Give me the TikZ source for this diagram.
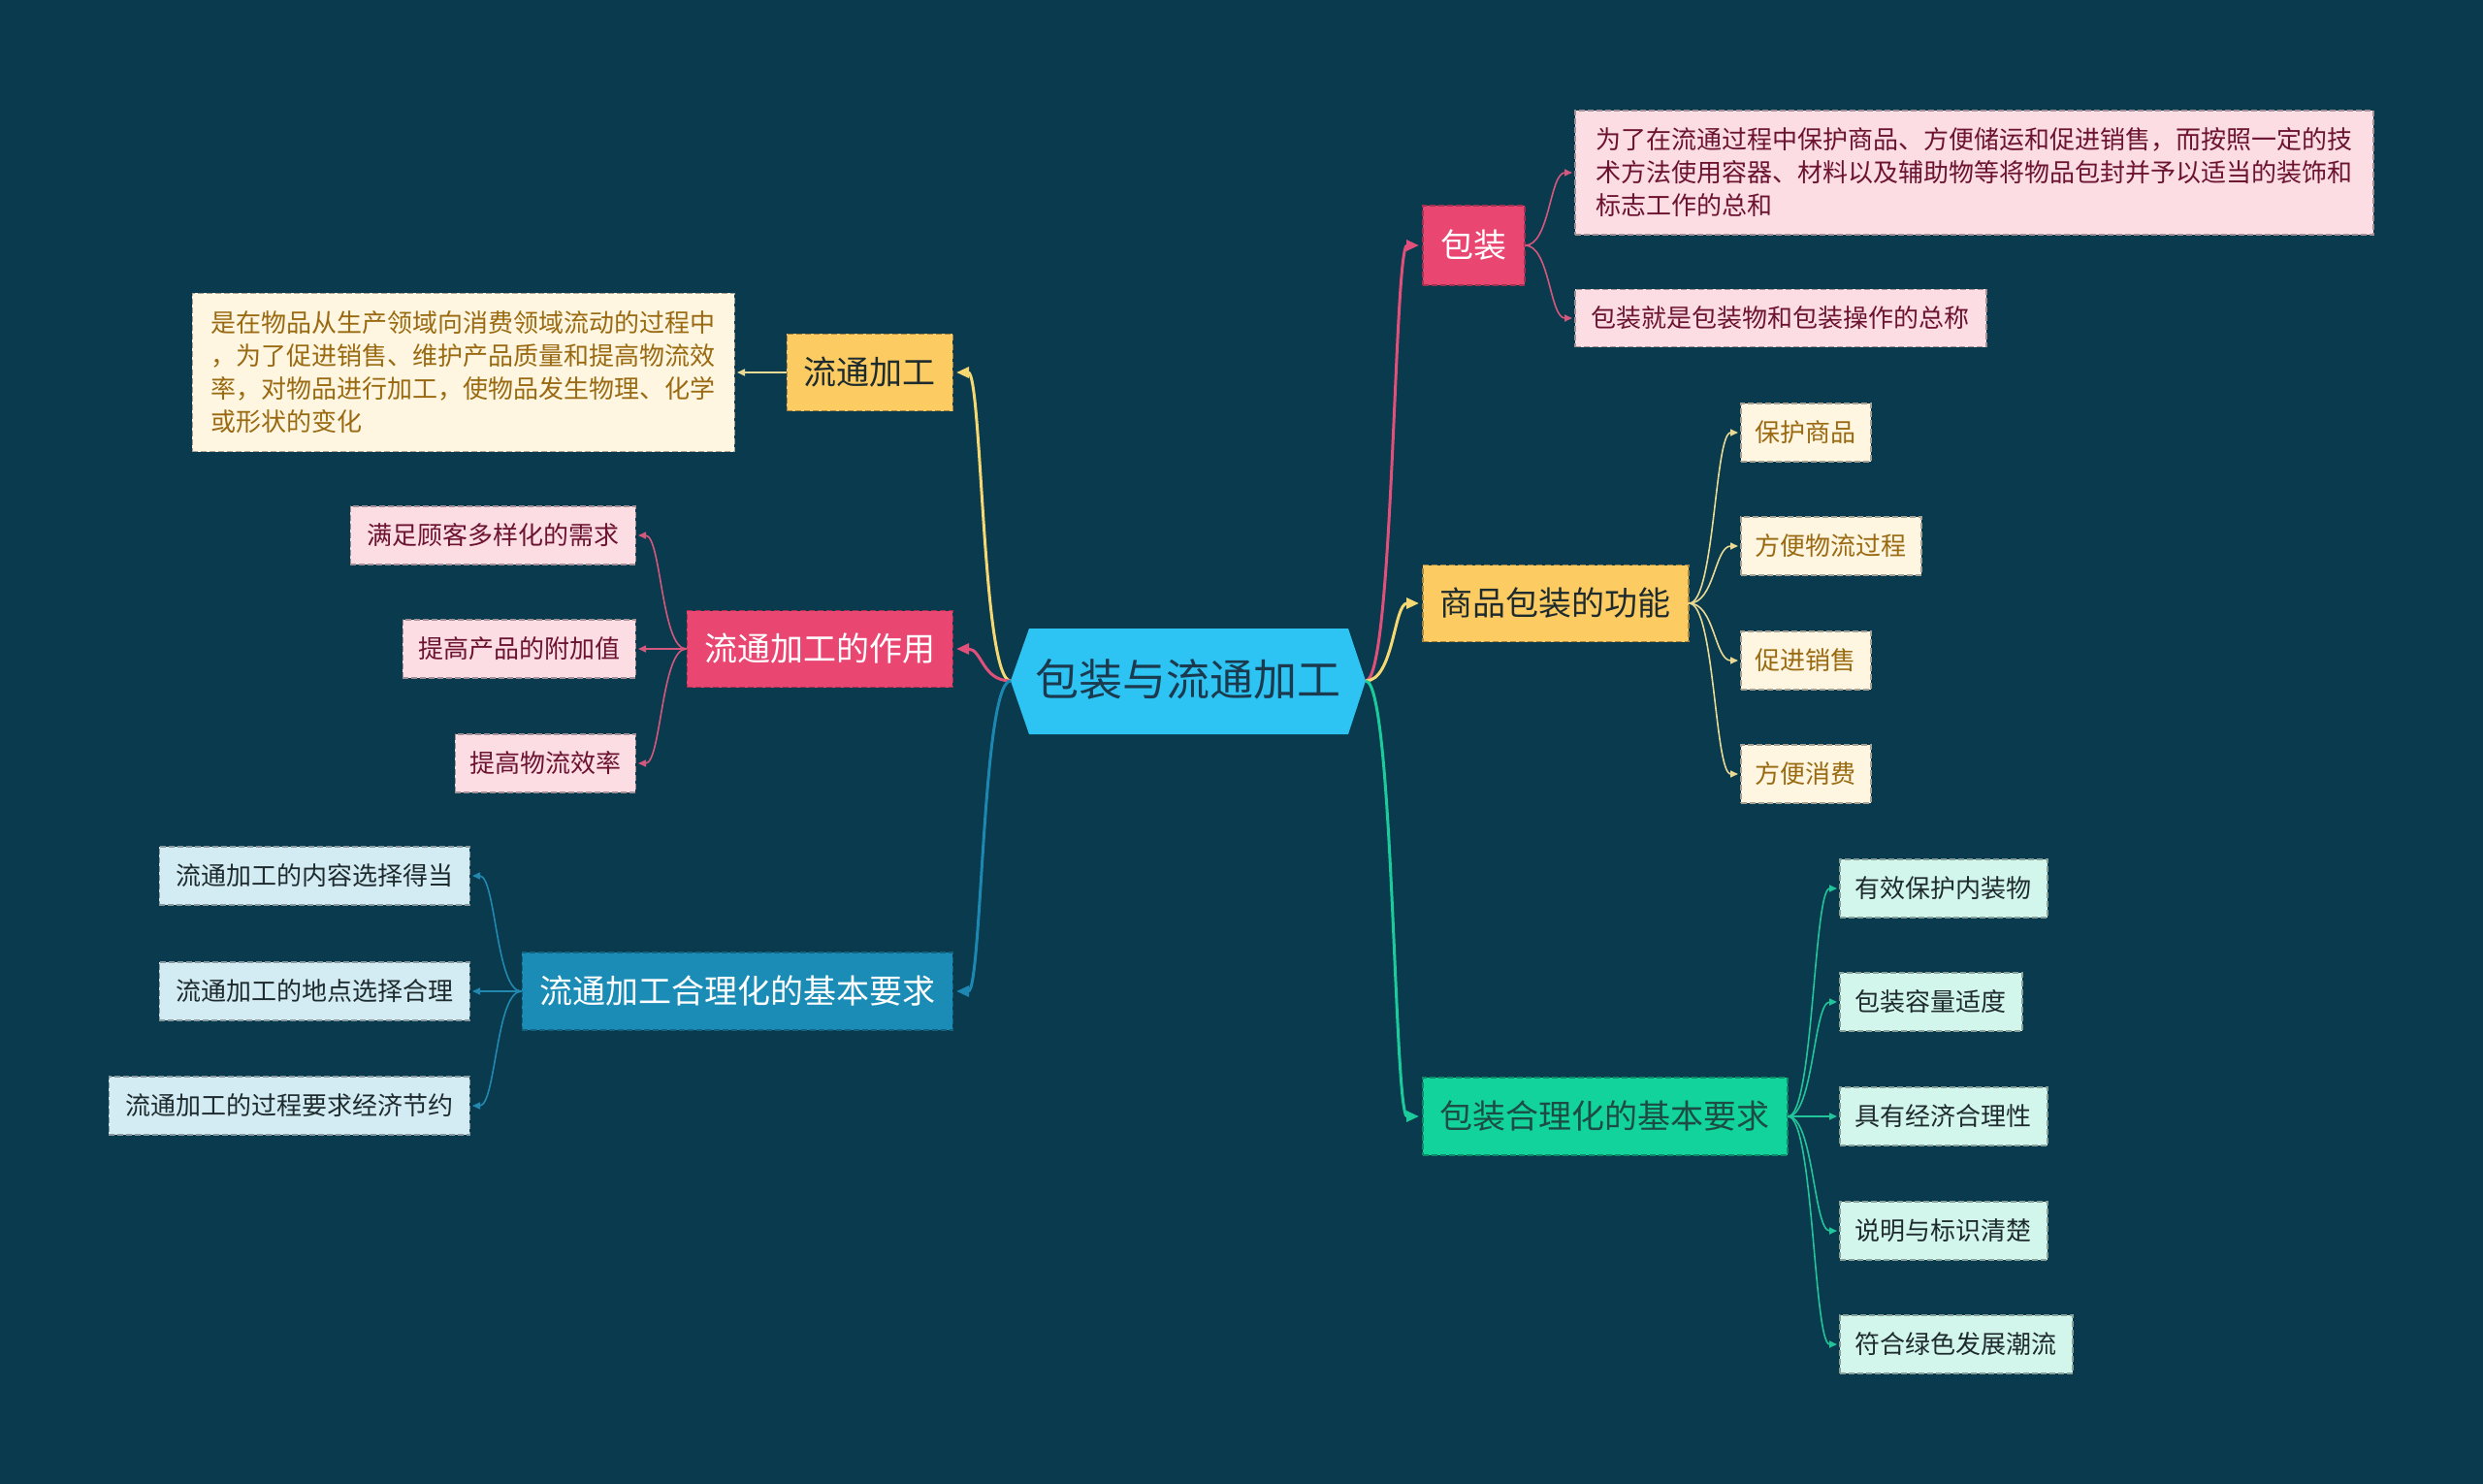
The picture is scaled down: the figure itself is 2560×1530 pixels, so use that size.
\documentclass[tikz,border=0pt]{standalone}
\usepackage{fontspec}
\setmainfont{Noto Sans CJK SC}
\usetikzlibrary{arrows.meta,calc}
\definecolor{bg}{HTML}{0A3A4D}
\definecolor{rootc}{HTML}{2DC3F3}
\definecolor{roottext}{HTML}{1B3A4E}
\definecolor{pinkc}{HTML}{E94672}
\definecolor{yellowc}{HTML}{FCCB62}
\definecolor{greenc}{HTML}{12D39C}
\definecolor{bluec}{HTML}{1A8CB6}
\definecolor{pinkl}{HTML}{FCDDE4}
\definecolor{pinkt}{HTML}{6B1330}
\definecolor{creaml}{HTML}{FEF6E0}
\definecolor{creamt}{HTML}{9A6A12}
\definecolor{mintl}{HTML}{D3F6EC}
\definecolor{bluel}{HTML}{D3EBF2}
\definecolor{darkt}{HTML}{1E2B2E}
\definecolor{pinkline}{HTML}{E0507A}
\definecolor{yellowline}{HTML}{F6D872}
\definecolor{greenline}{HTML}{1CCB9C}
\definecolor{blueline}{HTML}{1C88B2}
\definecolor{pinkline2}{HTML}{D4587D}
\definecolor{yellowline2}{HTML}{E8D995}
\definecolor{greenline2}{HTML}{22C49B}
\definecolor{blueline2}{HTML}{2288B0}
\tikzset{
  base/.style={rectangle, inner sep=0pt, dash pattern=on 6pt off 3pt, line width=1.5pt, align=center},
  lvone/.style={base, font=\fontsize{34pt}{40pt}\selectfont, minimum height=79pt},
  leaf/.style={base, font=\fontsize{26pt}{34pt}\selectfont, minimum height=60pt},
  conn/.style={to path={.. controls ($(\tikztostart)!0.5!(\tikztostart -| \tikztotarget)$) and ($(\tikztotarget)!0.5!(\tikztotarget -| \tikztostart)$) .. (\tikztotarget) \tikztonodes}},
  mainline/.style={conn, line width=3pt, -{Triangle[length=13pt,width=11pt]}, shorten >=3pt},
  subline/.style={conn, line width=1.6pt, -{Triangle[length=8pt,width=7pt]}, shorten >=2pt},
  pinkbox/.style={fill=pinkl, draw=pinkl!65!black, text=pinkt},
  creambox/.style={fill=creaml, draw=creaml!65!black, text=creamt},
  mintbox/.style={fill=mintl, draw=mintl!65!black, text=darkt},
  bluebox/.style={fill=bluel, draw=bluel!65!black, text=darkt}
}
\begin{document}
\begin{tikzpicture}[x=1pt,y=-1pt]
\fill[bg] (0,0) rectangle (2560,1530);
\useasboundingbox (0,0) rectangle (2560,1530);

% root
\coordinate (rootL) at (1042,702);
\coordinate (rootR) at (1408,702);
\coordinate (rootTL) at (1061,648);
\coordinate (rootTR) at (1390,648);
\coordinate (rootBR) at (1390,757);
\coordinate (rootBL) at (1061,757);
\fill[rootc] (rootL) -- (rootTL) -- (rootTR) -- (rootR) -- (rootBR) -- (rootBL) -- cycle;
\node[font=\fontsize{45pt}{50pt}\selectfont, text=roottext] (root) at (1225,700) {包装与流通加工};

% right side level 1
\node[lvone, fill=pinkc, draw=pinkc!70!black, text=white, minimum width=105pt, minimum height=82pt, anchor=west] (bz) at (1466,253) {包装};
\node[lvone, fill=yellowc, draw=yellowc!65!black, text=darkt, minimum width=274pt, anchor=west] (gn) at (1466,622) {商品包装的功能};
\node[lvone, fill=greenc, draw=greenc!65!black, text=darkt!80!greenc, minimum width=376pt, minimum height=80pt, anchor=west] (bzyq) at (1466,1151) {包装合理化的基本要求};

% 包装 children
\node[leaf, pinkbox, minimum width=823pt, minimum height=128pt, anchor=west, align=left] (bzd1) at (1623,178) {为了在流通过程中保护商品、方便储运和促进销售，而按照一定的技\\术方法使用容器、材料以及辅助物等将物品包封并予以适当的装饰和\\标志工作的总和};
\node[leaf, pinkbox, minimum width=424pt, minimum height=59pt, anchor=west] (bzd2) at (1623,328) {包装就是包装物和包装操作的总称};

% 功能 children
\node[leaf, creambox, minimum width=134pt, anchor=west] (gn1) at (1794,446) {保护商品};
\node[leaf, creambox, minimum width=186pt, anchor=west] (gn2) at (1794,563) {方便物流过程};
\node[leaf, creambox, minimum width=134pt, anchor=west] (gn3) at (1794,681) {促进销售};
\node[leaf, creambox, minimum width=134pt, anchor=west] (gn4) at (1794,798) {方便消费};

% 包装合理化 children
\node[leaf, mintbox, minimum width=214pt, anchor=west] (yq1) at (1896,916) {有效保护内装物};
\node[leaf, mintbox, minimum width=188pt, anchor=west] (yq2) at (1896,1033) {包装容量适度};
\node[leaf, mintbox, minimum width=214pt, anchor=west] (yq3) at (1896,1151) {具有经济合理性};
\node[leaf, mintbox, minimum width=214pt, anchor=west] (yq4) at (1896,1269) {说明与标识清楚};
\node[leaf, mintbox, minimum width=240pt, anchor=west] (yq5) at (1896,1386) {符合绿色发展潮流};

% left side level 1
\node[lvone, fill=yellowc, draw=yellowc!65!black, text=darkt, minimum width=171pt, anchor=east] (lt) at (983,384) {流通加工};
\node[lvone, fill=pinkc, draw=pinkc!70!black, text=white, minimum width=274pt, anchor=east] (zy) at (983,669) {流通加工的作用};
\node[lvone, fill=bluec, draw=bluec!70!black, text=white, minimum width=444pt, minimum height=80pt, anchor=east] (ltyq) at (983,1022) {流通加工合理化的基本要求};

% 流通加工 desc
\node[leaf, creambox, minimum width=559pt, minimum height=163pt, anchor=east, align=left] (ltd) at (758,384) {是在物品从生产领域向消费领域流动的过程中\\，为了促进销售、维护产品质量和提高物流效\\率，对物品进行加工，使物品发生物理、化学\\或形状的变化};

% 作用 children
\node[leaf, pinkbox, minimum width=294pt, anchor=east] (zy1) at (656,552) {满足顾客多样化的需求};
\node[leaf, pinkbox, minimum width=240pt, anchor=east] (zy2) at (656,669) {提高产品的附加值};
\node[leaf, pinkbox, minimum width=186pt, anchor=east] (zy3) at (656,787) {提高物流效率};

% 流通加工合理化 children
\node[leaf, bluebox, minimum width=320pt, anchor=east] (ly1) at (485,903) {流通加工的内容选择得当};
\node[leaf, bluebox, minimum width=320pt, anchor=east] (ly2) at (485,1022) {流通加工的地点选择合理};
\node[leaf, bluebox, minimum width=372pt, anchor=east] (ly3) at (485,1140) {流通加工的过程要求经济节约};

% main connectors
\draw[mainline, pinkline] (rootR) to (bz.west);
\draw[mainline, yellowline] (rootR) to (gn.west);
\draw[mainline, greenline] (rootR) to (bzyq.west);
\draw[mainline, yellowline] (rootL) to (lt.east);
\draw[mainline, pinkline] (rootL) to (zy.east);
\draw[mainline, blueline] (rootL) to (ltyq.east);

% sub connectors
\draw[subline, pinkline2] (bz.east) to (bzd1.west);
\draw[subline, pinkline2] (bz.east) to (bzd2.west);
\foreach \n in {gn1,gn2,gn3,gn4} \draw[subline, yellowline2] (gn.east) to (\n.west);
\foreach \n in {yq1,yq2,yq3,yq4,yq5} \draw[subline, greenline2] (bzyq.east) to (\n.west);
\draw[subline, yellowline2] (lt.west) to (ltd.east);
\foreach \n in {zy1,zy2,zy3} \draw[subline, pinkline2] (zy.west) to (\n.east);
\foreach \n in {ly1,ly2,ly3} \draw[subline, blueline2] (ltyq.west) to (\n.east);
\end{tikzpicture}
\end{document}
